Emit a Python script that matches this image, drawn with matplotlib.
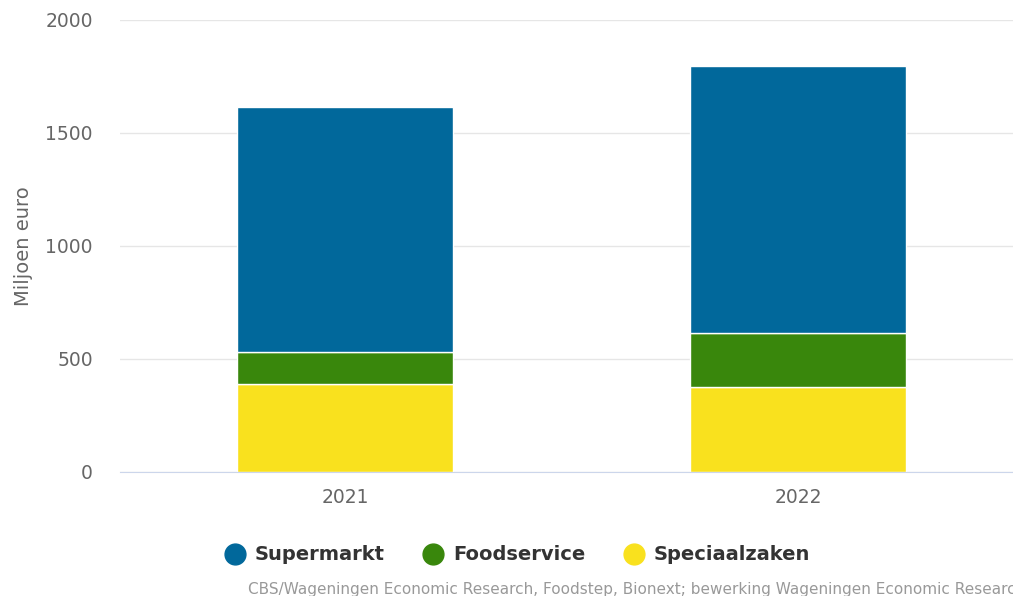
import matplotlib
matplotlib.use("Agg")
import matplotlib.pyplot as plt
from matplotlib.lines import Line2D

# Data (miljoen euro)
years = ["2021", "2022"]
speciaalzaken = [388, 373]
foodservice = [140, 242]
supermarkt = [1084, 1180]

COLOR_SUPER = "#01689B"
COLOR_FOOD = "#39870C"
COLOR_SPEC = "#F9E11E"

plt.rcParams["font.family"] = ["DejaVu Sans"]

fig = plt.figure(figsize=(10.13, 5.96), dpi=100)
ax = fig.add_axes([0.1185, 0.2086, 0.8815, 0.7584])

x = range(len(years))
width = 0.477
ax.bar(x, speciaalzaken, width, color=COLOR_SPEC, edgecolor="white", linewidth=1, zorder=3)
ax.bar(x, foodservice, width, bottom=speciaalzaken, color=COLOR_FOOD,
       edgecolor="white", linewidth=1, zorder=3)
bottom2 = [s + f for s, f in zip(speciaalzaken, foodservice)]
ax.bar(x, supermarkt, width, bottom=bottom2, color=COLOR_SUPER,
       edgecolor="white", linewidth=1, zorder=3)

ax.set_xlim(-0.497, 1.475)
ax.set_ylim(0, 2000)
ax.set_yticks([0, 500, 1000, 1500, 2000])
ax.set_xticks(list(x))
ax.set_xticklabels(years)
ax.yaxis.grid(True, color="#e6e6e6", linewidth=1, zorder=0)
ax.set_axisbelow(True)
for side in ["top", "right", "left"]:
    ax.spines[side].set_visible(False)
ax.spines["bottom"].set_color("#ccd6eb")
ax.spines["bottom"].set_zorder(4)
ax.tick_params(axis="both", length=0, labelsize=13.5, colors="#666666")
ax.tick_params(axis="x", pad=12)
ax.tick_params(axis="y", pad=19.5)
ax.set_ylabel("Miljoen euro", fontsize=14, color="#666666")
ax.yaxis.set_label_coords(-0.098, 0.5)

handles = [
    Line2D([], [], marker="o", linestyle="none", markersize=15, color=COLOR_SUPER),
    Line2D([], [], marker="o", linestyle="none", markersize=15, color=COLOR_FOOD),
    Line2D([], [], marker="o", linestyle="none", markersize=15, color=COLOR_SPEC),
]
leg = fig.legend(handles, ["Supermarkt", "Foodservice", "Speciaalzaken"],
                 loc="center", bbox_to_anchor=(0.511, 0.069), ncol=3, frameon=False,
                 prop={"size": 14, "weight": "bold"}, handletextpad=0.5,
                 columnspacing=2.0, handlelength=1.0)
for t in leg.get_texts():
    t.set_color("#333333")

# credit line runs off the right edge, as in the source chart
fig.text(0.245, 0.0117, "CBS/Wageningen Economic Research, Foodstep, Bionext; bewerking Wageningen Economic Research",
         fontsize=11, color="#999999", ha="left", va="center")

fig.savefig("out.png", dpi=100)
